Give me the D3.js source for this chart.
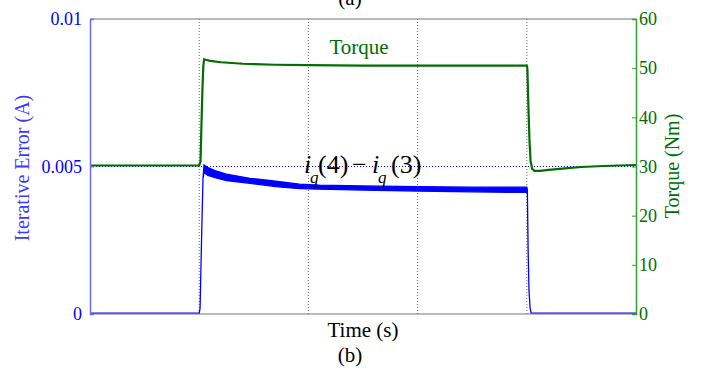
<!DOCTYPE html>
<html>
<head>
<meta charset="utf-8">
<script src="https://cdn.jsdelivr.net/npm/d3@7"></script>
<style>
  body { margin: 0; background: #fff; }
  svg text { font-family: "Liberation Serif", "DejaVu Serif", serif; }
</style>
</head>
<body>
<div id="chart"></div>
<script>
// torque trace (Nm)
const torqueTime = [0, 0.5, 1.0, 1.012, 1.02, 1.03, 1.038, 1.045, 1.06, 1.1, 1.2, 1.4, 1.7, 2.0, 2.5, 3.0, 3.5, 4.0, 4.005, 4.015, 4.025, 4.035, 4.05, 4.07, 4.12, 4.2, 4.35, 4.5, 4.7, 5.0];
const torque = [30.2, 30.2, 30.2, 31, 38, 46, 50.5, 51.8, 51.7, 51.5, 51.2, 50.9, 50.7, 50.6, 50.5, 50.5, 50.5, 50.5, 50, 42, 35, 31, 29.5, 29.1, 29.1, 29.3, 29.6, 29.9, 30.1, 30.3];

// iterative error iq(4) - iq(3) (A): ripple band upper / lower edge
const errTime = [0, 0.5, 1.0, 1.008, 1.015, 1.025, 1.035, 1.044, 1.08, 1.145, 1.25, 1.465, 1.7, 1.92, 2.1, 2.5, 3.0, 3.5, 4.0, 4.005, 4.012, 4.02, 4.03, 4.04, 4.5, 5.0];
const errUpper = [0.00003, 0.00003, 0.00003, 0.0002, 0.0014, 0.0031, 0.0046, 0.00505, 0.00496, 0.00486, 0.00474, 0.0046, 0.0045, 0.0044, 0.00437, 0.00434, 0.00432, 0.0043, 0.0043, 0.0042, 0.0022, 0.0008, 0.0002, 0.00003, 0.00003, 0.00003];
const errLower = [0.00003, 0.00003, 0.00003, 0.0002, 0.0014, 0.0031, 0.0046, 0.0048, 0.0047, 0.00462, 0.00452, 0.00443, 0.00432, 0.00425, 0.00423, 0.0042, 0.00417, 0.00414, 0.00412, 0.0041, 0.0022, 0.0008, 0.0002, 0.00003, 0.00003, 0.00003];

const timeGrid = [1, 2, 3, 4];
const errTicks = [0, 0.005, 0.01];
const errTickLabels = ['0', '0.005', '0.01'];
const torqueTicks = [0, 10, 20, 30, 40, 50, 60];

const width = 704, height = 373;
const margin = {left: 90, right: 68, top: 19, bottom: 59};
const innerW = width - margin.left - margin.right;
const innerH = height - margin.top - margin.bottom;

const blue = '#0000ff';
const green = '#006e00';

const svg = d3.select('#chart').append('svg')
  .attr('width', width)
  .attr('height', height);

const x = d3.scaleLinear().domain([0, 5]).range([0, innerW]);
const yErr = d3.scaleLinear().domain([0, 0.01]).range([innerH, 0]);
const yTq = d3.scaleLinear().domain([0, 60]).range([innerH, 0]);

const g = svg.append('g')
  .attr('transform', 'translate(' + margin.left + ',' + margin.top + ')');

// dotted grid
g.selectAll('.vgrid')
  .data(timeGrid)
  .enter().append('line')
  .attr('class', 'vgrid')
  .attr('x1', d => x(d)).attr('x2', d => x(d))
  .attr('y1', 0).attr('y2', innerH)
  .attr('stroke', '#666')
  .attr('stroke-width', 1)
  .attr('stroke-dasharray', '1,2');

g.append('line')
  .attr('x1', 0).attr('x2', innerW)
  .attr('y1', yErr(0.005)).attr('y2', yErr(0.005))
  .attr('stroke', blue)
  .attr('stroke-width', 1)
  .attr('stroke-dasharray', '1,2');

// error band
const errData = errTime.map((t, i) => ({t: t, hi: errUpper[i], lo: errLower[i]}));
g.append('path')
  .datum(errData)
  .attr('fill', blue)
  .attr('stroke', blue)
  .attr('stroke-width', 1.3)
  .attr('d', d3.area()
    .x(d => x(d.t))
    .y0(d => yErr(d.lo))
    .y1(d => yErr(d.hi)));

// torque line
const tqData = torqueTime.map((t, i) => ({t: t, v: torque[i]}));
g.append('path')
  .datum(tqData)
  .attr('fill', 'none')
  .attr('stroke', green)
  .attr('stroke-width', 2.2)
  .attr('d', d3.line()
    .x(d => x(d.t))
    .y(d => yTq(d.v)));

// frame
g.append('line')
  .attr('x1', 0).attr('x2', innerW).attr('y1', 0).attr('y2', 0)
  .attr('stroke', '#777').attr('stroke-width', 1.2);
g.append('line')
  .attr('x1', 0).attr('x2', innerW).attr('y1', innerH).attr('y2', innerH)
  .attr('stroke', '#777').attr('stroke-width', 1.2);

// left axis
const leftAxis = g.append('g')
  .call(d3.axisLeft(yErr).tickValues(errTicks).tickSize(-4)
    .tickFormat((d, i) => errTickLabels[i]).tickPadding(8));
leftAxis.select('.domain').attr('stroke', '#6a6aff').attr('stroke-width', 1.5);
leftAxis.selectAll('.tick line').attr('stroke', '#6a6aff');
leftAxis.selectAll('.tick text')
  .attr('fill', blue)
  .style('font-family', '"Liberation Serif", serif')
  .style('font-size', '18px');

// right axis
const rightAxis = g.append('g')
  .attr('transform', 'translate(' + innerW + ',0)')
  .call(d3.axisRight(yTq).tickValues(torqueTicks).tickSize(-4).tickPadding(3));
rightAxis.select('.domain').attr('stroke', '#2f9f2f').attr('stroke-width', 1.5);
rightAxis.selectAll('.tick line').attr('stroke', '#2f9f2f');
rightAxis.selectAll('.tick text')
  .attr('fill', green)
  .style('font-family', '"Liberation Serif", serif')
  .style('font-size', '18px');

// labels
svg.append('text')
  .attr('transform', 'translate(29,168) rotate(-90)')
  .attr('text-anchor', 'middle')
  .attr('fill', '#3a3aff')
  .style('font-size', '20px')
  .text('Iterative Error (A)');

svg.append('text')
  .attr('transform', 'translate(679,166) rotate(-90)')
  .attr('text-anchor', 'middle')
  .attr('fill', green)
  .style('font-size', '20px')
  .text('Torque (Nm)');

svg.append('text')
  .attr('x', 359).attr('y', 54)
  .attr('text-anchor', 'middle')
  .attr('fill', green)
  .style('font-size', '21px')
  .text('Torque');

svg.append('text')
  .attr('x', 363).attr('y', 337)
  .attr('text-anchor', 'middle')
  .attr('fill', '#000')
  .style('font-size', '21px')
  .text('Time (s)');

svg.append('text')
  .attr('x', 350).attr('y', 362)
  .attr('text-anchor', 'middle')
  .attr('fill', '#000')
  .style('font-size', '21px')
  .text('(b)');

svg.append('text')
  .attr('x', 350).attr('y', 5)
  .attr('text-anchor', 'middle')
  .attr('fill', '#000')
  .style('font-size', '21px')
  .text('(a)');

// i_q(4) - i_q(3)
const eq = svg.append('text')
  .attr('fill', '#000')
  .style('font-size', '26px');
const parts = [
  {t: 'i', x: 304, y: 173, it: true, s: 26},
  {t: 'q', x: 310, y: 183, it: true, s: 17},
  {t: '(4)', x: 318, y: 173, it: false, s: 26},
  {t: '\u2212', x: 352, y: 173, it: false, s: 26},
  {t: 'i', x: 372, y: 173, it: true, s: 26},
  {t: 'q', x: 378, y: 183, it: true, s: 17},
  {t: '(3)', x: 391, y: 173, it: false, s: 26}
];
eq.selectAll('tspan')
  .data(parts)
  .enter().append('tspan')
  .attr('x', d => d.x)
  .attr('y', d => d.y)
  .style('font-style', d => d.it ? 'italic' : 'normal')
  .style('font-size', d => d.s + 'px')
  .text(d => d.t);
</script>
</body>
</html>
